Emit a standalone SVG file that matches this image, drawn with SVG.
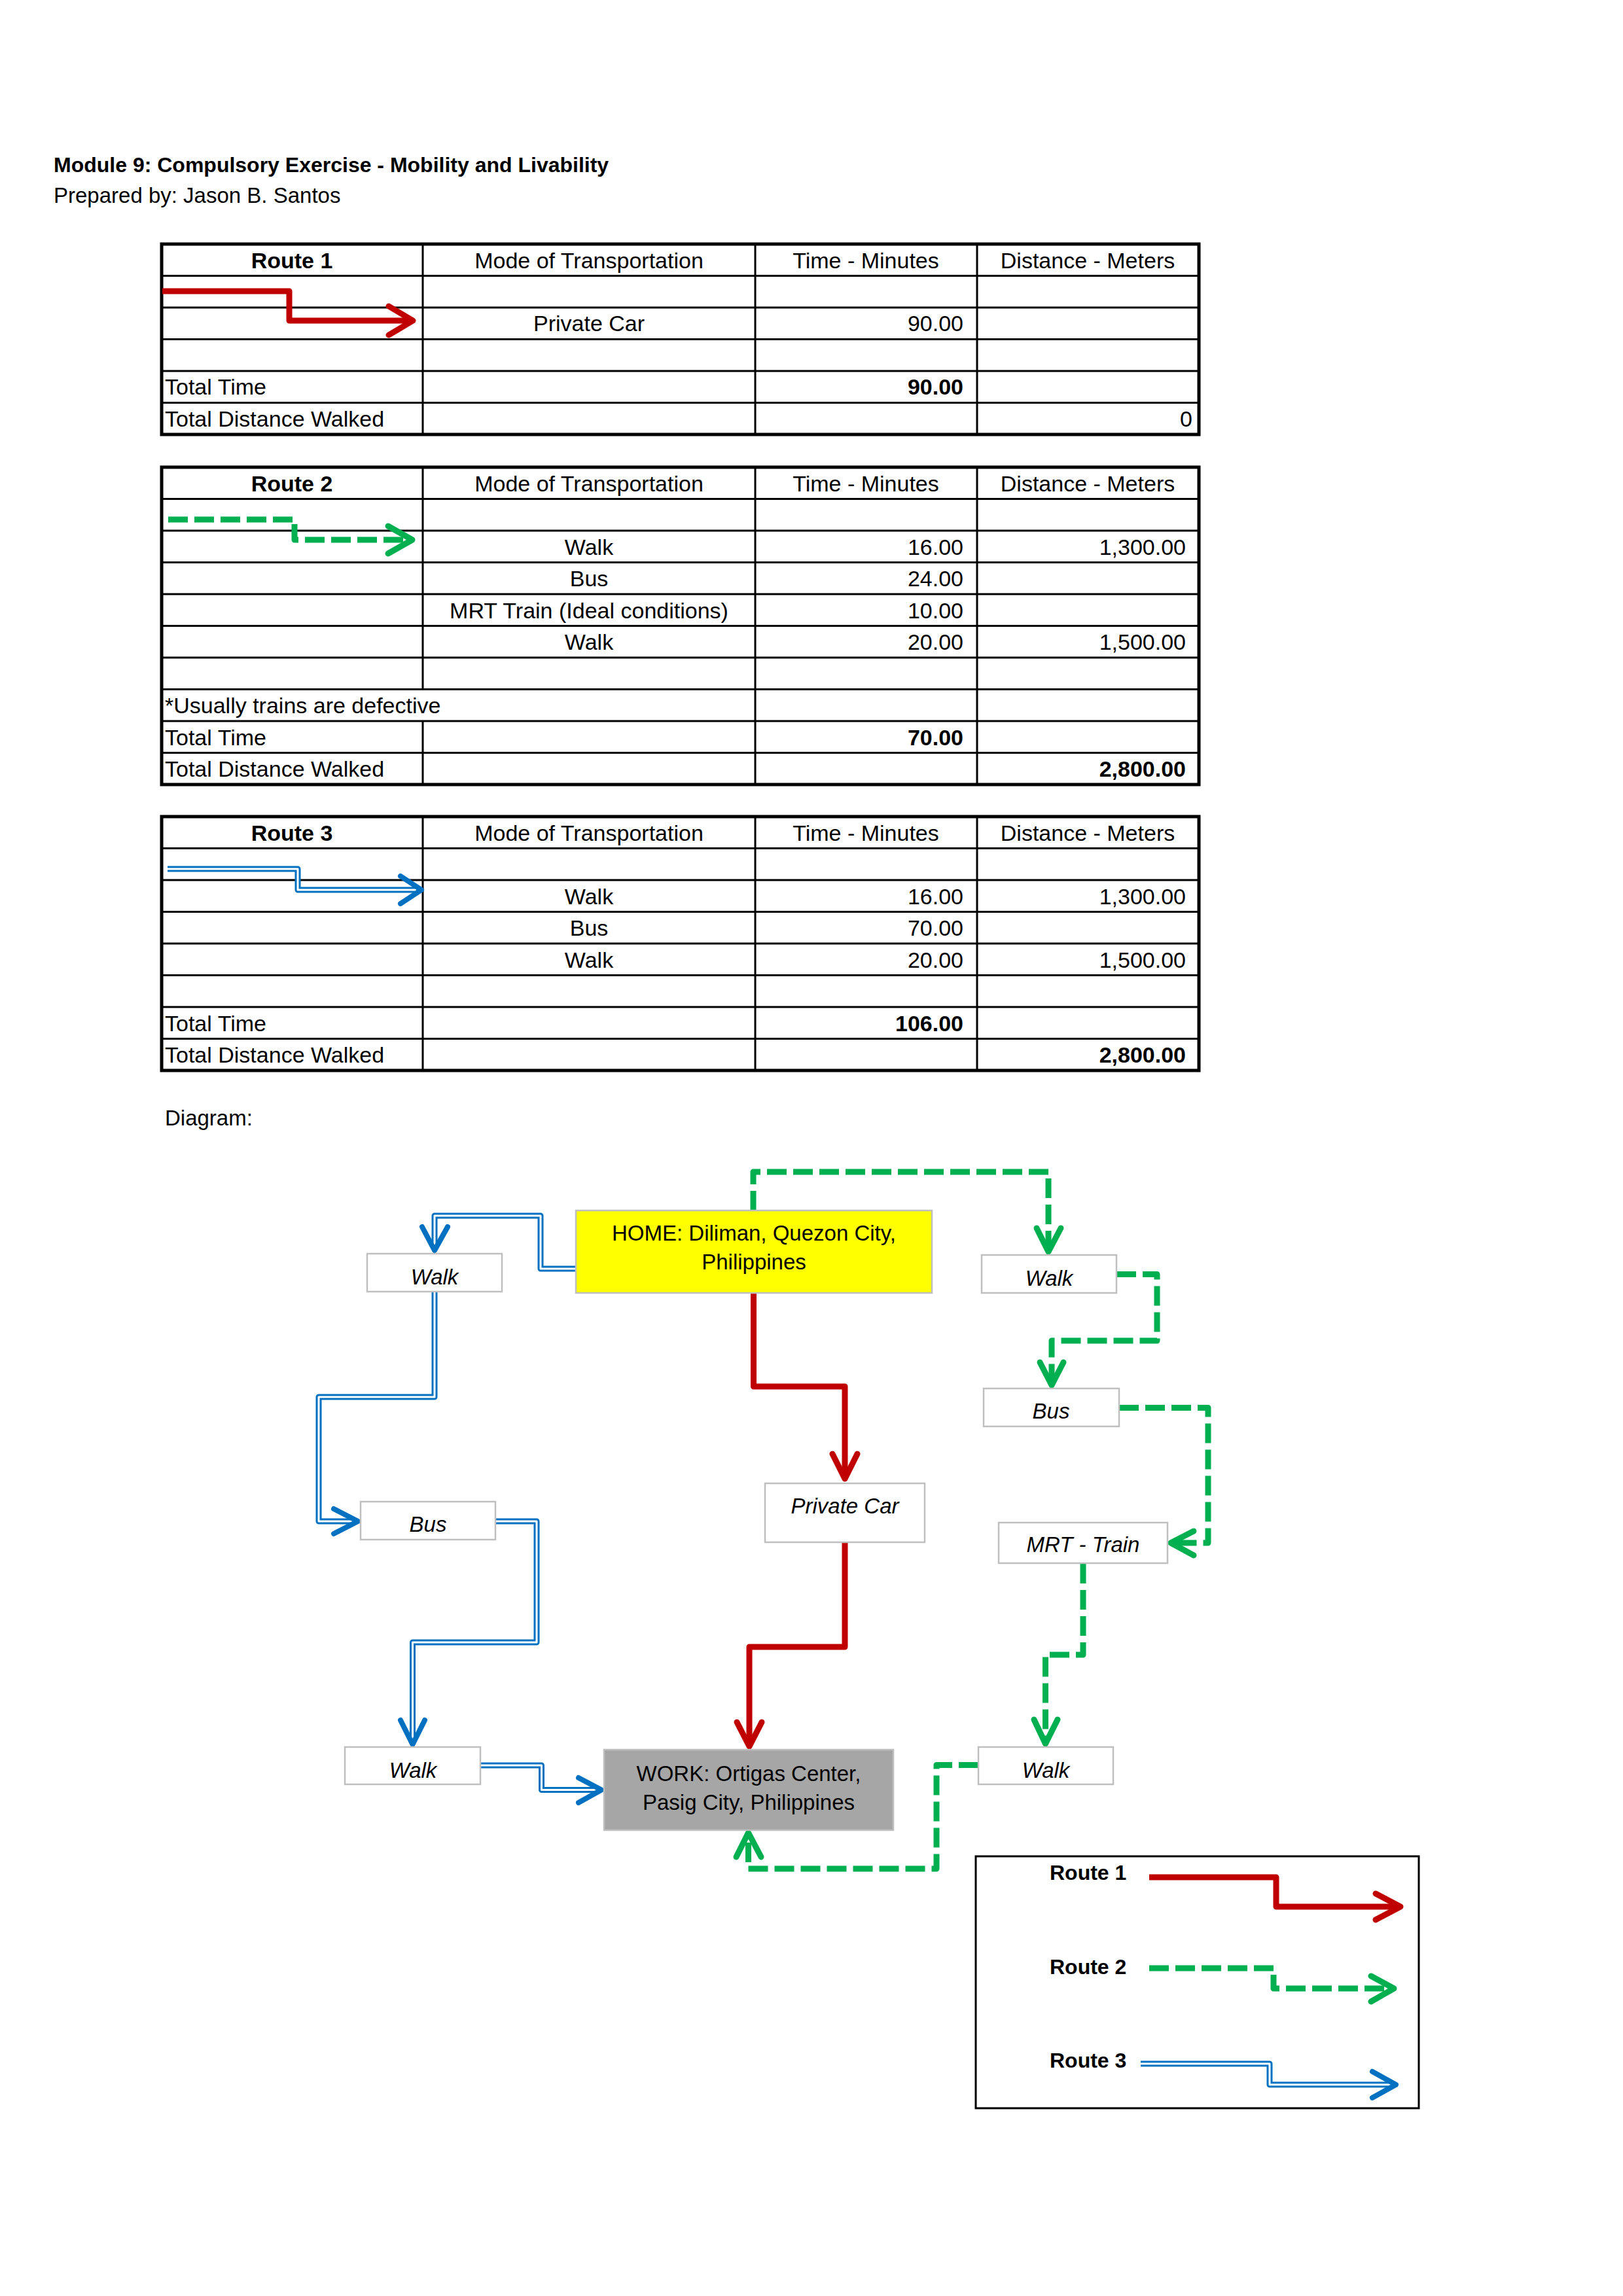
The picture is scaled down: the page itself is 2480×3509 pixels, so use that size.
<svg xmlns="http://www.w3.org/2000/svg" width="2480" height="3509" viewBox="0 0 2480 3509">
<style>
text{font-family:"Liberation Sans",Arial,sans-serif;fill:#000}
.t{font-size:34px}
.b{font-weight:bold}
.c{text-anchor:middle}
.r{text-anchor:end}
.n{font-size:33px}
.i{font-style:italic}
.grid{stroke:#000;stroke-width:3;fill:none}
.outer{stroke:#000;stroke-width:5;fill:none}
.box{fill:#fff;stroke:#BFBFBF;stroke-width:2.5}
.red{fill:none;stroke:#C00000;stroke-width:9;stroke-linejoin:round}
.redh{fill:none;stroke:#C00000;stroke-width:9;stroke-linecap:round;stroke-linejoin:round}
.grn{fill:none;stroke:#00B050;stroke-width:9;stroke-dasharray:30 10;stroke-linejoin:round}
.grnh{fill:none;stroke:#00B050;stroke-width:9;stroke-linecap:round;stroke-linejoin:round}
.blo{fill:none;stroke:#0070C0;stroke-width:9;stroke-linejoin:round}
.bli{fill:none;stroke:#fff;stroke-width:3;stroke-linejoin:round}
.blh{fill:none;stroke:#0070C0;stroke-width:8;stroke-linecap:round;stroke-linejoin:round}
</style>
<rect width="2480" height="3509" fill="#fff"/>

<g id="header">
<text x="82" y="263" class="b" font-size="32">Module 9: Compulsory Exercise - Mobility and Livability</text>
<text x="82" y="310" font-size="33">Prepared by: Jason B. Santos</text>
</g>

<g id="table-route1">
<path class="grid" d="M247,421.5H1832M247,470H1832M247,518.5H1832M247,567H1832M247,615.5H1832M646,373V664M1154,373V664M1493,373V664"/>
<rect class="outer" x="247" y="373" width="1585" height="291"/>
<text class="t b c" x="446" y="410">Route 1</text>
<text class="t c" x="900" y="410">Mode of Transportation</text>
<text class="t c" x="1323" y="410">Time - Minutes</text>
<text class="t c" x="1662" y="410">Distance - Meters</text>
<text class="t c" x="900" y="506">Private Car</text>
<text class="t r" x="1472" y="506">90.00</text>
<text class="t" x="252" y="603">Total Time</text>
<text class="t b r" x="1472" y="603">90.00</text>
<text class="t" x="252" y="652">Total Distance Walked</text>
<text class="t r" x="1822" y="652">0</text>
<path class="red" d="M248,445H442V490H628"/>
<path class="redh" d="M594,468L631,490L594,512"/>
</g>

<g id="table-route2">
<path class="grid" d="M247,762.5H1832M247,811H1832M247,859.5H1832M247,908H1832M247,956.5H1832M247,1005H1832M247,1053.5H1832M247,1102H1832M247,1150.5H1832M646,714V1053.5M646,1102V1199M1154,714V1199M1493,714V1199"/>
<rect class="outer" x="247" y="714" width="1585" height="485"/>
<text class="t b c" x="446" y="751">Route 2</text>
<text class="t c" x="900" y="751">Mode of Transportation</text>
<text class="t c" x="1323" y="751">Time - Minutes</text>
<text class="t c" x="1662" y="751">Distance - Meters</text>
<text class="t c" x="900" y="848">Walk</text>
<text class="t r" x="1472" y="848">16.00</text>
<text class="t r" x="1812" y="848">1,300.00</text>
<text class="t c" x="900" y="896">Bus</text>
<text class="t r" x="1472" y="896">24.00</text>
<text class="t c" x="900" y="945">MRT Train (Ideal conditions)</text>
<text class="t r" x="1472" y="945">10.00</text>
<text class="t c" x="900" y="993">Walk</text>
<text class="t r" x="1472" y="993">20.00</text>
<text class="t r" x="1812" y="993">1,500.00</text>
<text class="t" x="252" y="1090">*Usually trains are defective</text>
<text class="t" x="252" y="1139">Total Time</text>
<text class="t b r" x="1472" y="1139">70.00</text>
<text class="t" x="252" y="1187">Total Distance Walked</text>
<text class="t b r" x="1812" y="1187">2,800.00</text>
<path class="grn" d="M257,794H450V825H627"/>
<path class="grnh" d="M593,804L630,825L593,846"/>
</g>

<g id="table-route3">
<path class="grid" d="M247,1296.5H1832M247,1345H1832M247,1393.5H1832M247,1442H1832M247,1490.5H1832M247,1539H1832M247,1587.5H1832M646,1248V1636M1154,1248V1636M1493,1248V1636"/>
<rect class="outer" x="247" y="1248" width="1585" height="388"/>
<text class="t b c" x="446" y="1285">Route 3</text>
<text class="t c" x="900" y="1285">Mode of Transportation</text>
<text class="t c" x="1323" y="1285">Time - Minutes</text>
<text class="t c" x="1662" y="1285">Distance - Meters</text>
<text class="t c" x="900" y="1382">Walk</text>
<text class="t r" x="1472" y="1382">16.00</text>
<text class="t r" x="1812" y="1382">1,300.00</text>
<text class="t c" x="900" y="1430">Bus</text>
<text class="t r" x="1472" y="1430">70.00</text>
<text class="t c" x="900" y="1479">Walk</text>
<text class="t r" x="1472" y="1479">20.00</text>
<text class="t r" x="1812" y="1479">1,500.00</text>
<text class="t" x="252" y="1576">Total Time</text>
<text class="t b r" x="1472" y="1576">106.00</text>
<text class="t" x="252" y="1624">Total Distance Walked</text>
<text class="t b r" x="1812" y="1624">2,800.00</text>
<path class="blo" d="M256,1328H455V1360H640"/>
<path class="bli" d="M256,1328H455V1360H636"/>
<path class="blh" d="M612,1339L644,1360L612,1381"/>
</g>

<text class="n" x="252" y="1720">Diagram:</text>

<g id="connectors">
<!-- Route 1 red -->
<path class="red" d="M1151.5,1977V2119H1291V2258"/>
<path class="redh" d="M1272,2222L1291,2260L1310,2222"/>
<path class="red" d="M1291,2357V2517H1145V2666"/>
<path class="redh" d="M1126,2632L1145,2669L1164,2632"/>
<!-- Route 2 green -->
<path class="grn" d="M1151,1850V1791H1602V1910"/>
<path class="grnh" d="M1584,1877L1602,1913L1621,1877"/>
<path class="grn" d="M1706,1947.5H1768V2049H1607V2115"/>
<path class="grnh" d="M1589,2082L1607,2117L1625,2082"/>
<path class="grn" d="M1710,2151.5H1846V2358H1792"/>
<path class="grnh" d="M1824,2340L1789,2358L1824,2377"/>
<path class="grn" d="M1655,2390V2529H1597.5V2662"/>
<path class="grnh" d="M1580,2628L1597.5,2665L1616,2628"/>
<path class="grn" d="M1495,2697.5H1431V2856H1143.5V2805"/>
<path class="grnh" d="M1125,2838L1143.5,2801L1163,2838"/>
<!-- Route 3 blue -->
<path class="blo" d="M886,1939H826V1858H664V1908"/>
<path class="bli" d="M886,1939H826V1858H664V1904"/>
<path class="blh" d="M645,1875L664,1911L684,1875"/>
<path class="blo" d="M664,1975V2135H487V2325H543"/>
<path class="bli" d="M664,1975V2135H487V2325H539"/>
<path class="blh" d="M510,2306L547,2325L510,2344"/>
<path class="blo" d="M757,2325H820V2510H630.5V2663"/>
<path class="bli" d="M757,2325H820V2510H630.5V2659"/>
<path class="blh" d="M612,2629L630.5,2666L649,2629"/>
<path class="blo" d="M734,2698H827.5V2735.5H915"/>
<path class="bli" d="M734,2698H827.5V2735.5H911"/>
<path class="blh" d="M884,2717L919,2735.5L884,2755"/>
</g>

<g id="node-home">
<rect x="880" y="1850" width="544" height="126" fill="#FFFF00" stroke="#BFBFBF" stroke-width="2.5"/>
<text class="n c" x="1152" y="1896">HOME: Diliman, Quezon City,</text>
<text class="n c" x="1152" y="1940">Philippines</text>
</g>
<g id="node-walk-1">
<rect class="box" x="561" y="1916" width="206" height="58"/>
<text class="n c i" x="664" y="1963">Walk</text>
</g>
<g id="node-bus-1">
<rect class="box" x="551" y="2295" width="206" height="58"/>
<text class="n c i" x="654" y="2341">Bus</text>
</g>
<g id="node-walk-2">
<rect class="box" x="527" y="2670" width="207" height="57"/>
<text class="n c i" x="631" y="2717">Walk</text>
</g>
<g id="node-private-car">
<rect class="box" x="1169" y="2267" width="244" height="90"/>
<text class="n c i" x="1291" y="2313">Private Car</text>
</g>
<g id="node-work">
<rect x="923" y="2674" width="442" height="123" fill="#A6A6A6" stroke="#BFBFBF" stroke-width="2.5"/>
<text class="n c" x="1144" y="2722">WORK: Ortigas Center,</text>
<text class="n c" x="1144" y="2766">Pasig City, Philippines</text>
</g>
<g id="node-walk-3">
<rect class="box" x="1500" y="1918" width="206" height="58"/>
<text class="n c i" x="1603" y="1965">Walk</text>
</g>
<g id="node-bus-2">
<rect class="box" x="1503" y="2122" width="207" height="58"/>
<text class="n c i" x="1606" y="2168">Bus</text>
</g>
<g id="node-mrt">
<rect class="box" x="1526" y="2327" width="258" height="62"/>
<text class="n c i" x="1655" y="2372">MRT - Train</text>
</g>
<g id="node-walk-4">
<rect class="box" x="1495" y="2670" width="206" height="57"/>
<text class="n c i" x="1598" y="2717">Walk</text>
</g>

<g id="legend">
<rect x="1491" y="2837" width="677" height="385" fill="none" stroke="#000" stroke-width="3"/>
<text class="b" font-size="32" x="1604" y="2873">Route 1</text>
<text class="b" font-size="32" x="1604" y="3017">Route 2</text>
<text class="b" font-size="32" x="1604" y="3160">Route 3</text>
<path class="red" d="M1756,2869H1950V2914H2136"/>
<path class="redh" d="M2102,2894L2140,2914L2102,2934"/>
<path class="grn" d="M1756,3008H1946V3039H2126"/>
<path class="grnh" d="M2095,3020L2130,3039L2095,3059"/>
<path class="blo" d="M1743,3154H1940V3186H2129"/>
<path class="bli" d="M1743,3154H1940V3186H2125"/>
<path class="blh" d="M2097,3166L2133,3186L2097,3206"/>
</g>
</svg>
